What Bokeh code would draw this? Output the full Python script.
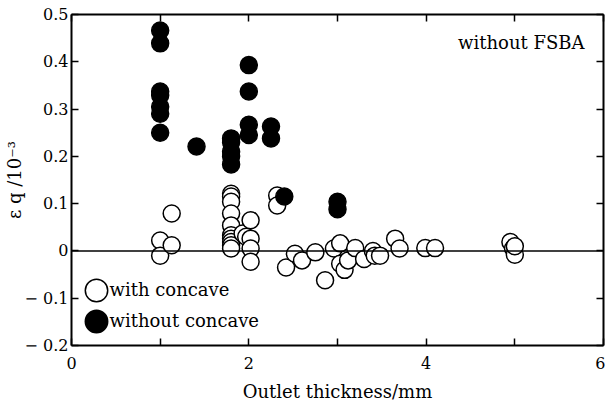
from bokeh.plotting import figure
from bokeh.models import (Span, Label, Legend, LegendItem, LinearAxis, FixedTicker,
                          Range1d)
from bokeh.embed import file_html
from bokeh.resources import INLINE

# with concave (open circles)
with_x = [1.0, 1.0, 1.13, 1.13,
          1.8, 1.8, 1.8, 1.8, 1.8, 1.8, 1.8, 1.8, 1.8, 1.8,
          1.93, 1.97, 2.02, 2.02, 2.02, 2.02,
          2.32, 2.32, 2.42, 2.52, 2.6, 2.75, 2.86, 2.96, 3.03, 3.03, 3.08, 3.12,
          3.2, 3.3, 3.4, 3.42, 3.48, 3.65, 3.7, 3.99, 4.1,
          4.95, 4.98, 5.0, 5.0]
with_y = [0.022, -0.01, 0.079, 0.012,
          0.121, 0.115, 0.104, 0.079, 0.054, 0.033, 0.026, 0.019, 0.012, 0.005,
          0.037, 0.03, 0.065, 0.026, 0.005, -0.023,
          0.117, 0.096, -0.035, -0.006, -0.02, -0.003, -0.062, 0.005, 0.016, -0.027, -0.04, -0.02,
          0.006, -0.017, 0.0, -0.01, -0.01, 0.026, 0.005, 0.006, 0.006,
          0.019, 0.005, -0.008, 0.01]

# without concave (filled circles)
without_x = [1.0, 1.0, 1.0, 1.0, 1.0, 1.0, 1.0,
             1.41,
             1.8, 1.8, 1.8, 1.8, 1.8,
             2.0, 2.0, 2.0, 2.0,
             2.25, 2.25,
             2.4,
             3.0, 3.0]
without_y = [0.466, 0.439, 0.337, 0.329, 0.305, 0.29, 0.25,
             0.221,
             0.238, 0.23, 0.21, 0.2, 0.183,
             0.393, 0.337, 0.267, 0.245,
             0.263, 0.238,
             0.115,
             0.104, 0.088]

x_ticks = [0, 1, 2, 3, 4, 5, 6]
x_labels = {0: "0", 1: "", 2: "2", 3: "", 4: "4", 5: "", 6: "6"}
y_ticks = [-0.2, -0.1, 0, 0.1, 0.2, 0.3, 0.4, 0.5]
y_labels = {-0.2: "\u2212 0.2", -0.1: "\u2212 0.1", 0: "0", 0.1: "0.1",
            0.2: "0.2", 0.3: "0.3", 0.4: "0.4", 0.5: "0.5"}
series_names = ["with concave", "without concave"]
note_text = "without FSBA"

FONT = "DejaVu Serif"

p = figure(frame_width=532, frame_height=331, output_backend="svg", toolbar_location=None,
           x_range=Range1d(0, 6), y_range=Range1d(-0.2, 0.5),
           x_axis_label="Outlet thickness/mm", y_axis_label="\u03b5 q /10\u207b\u00b3",
           min_border_left=67, min_border_top=14, min_border_right=2, min_border_bottom=44)
p.grid.visible = False
p.outline_line_color = None
p.background_fill_color = None
p.border_fill_color = None


def style_axis(ax, show_labels):
    ax.axis_line_width = 2
    ax.axis_line_color = "black"
    ax.major_tick_in = 7
    ax.major_tick_out = 0
    ax.major_tick_line_width = 1.5
    ax.minor_tick_line_color = None
    if show_labels:
        ax.major_label_text_font = FONT
        ax.major_label_text_font_size = "16px"
        ax.major_label_text_color = "black"
        ax.major_label_standoff = 3
        ax.axis_label_text_font = FONT
        ax.axis_label_text_font_size = "18px"
        ax.axis_label_text_font_style = "normal"
        ax.axis_label_text_color = "black"
        ax.axis_label_standoff = 0
    else:
        ax.major_label_text_color = None
        ax.major_label_text_font_size = "1px"
        ax.major_label_standoff = 0
        ax.axis_label = None


p.xaxis.ticker = FixedTicker(ticks=x_ticks)
p.xaxis.major_label_overrides = x_labels
p.yaxis.ticker = FixedTicker(ticks=y_ticks)
p.yaxis.major_label_overrides = y_labels
for ax in p.xaxis + p.yaxis:
    style_axis(ax, True)
p.xaxis.major_label_standoff = 11
p.xaxis.axis_label_standoff = 9
p.yaxis.axis_label_standoff = -3

top = LinearAxis(ticker=FixedTicker(ticks=x_ticks))
right = LinearAxis(ticker=FixedTicker(ticks=y_ticks))
style_axis(top, False)
style_axis(right, False)
p.add_layout(top, "above")
p.add_layout(right, "right")

p.add_layout(Span(location=0, dimension="width", line_color="black", line_width=1.5))

r_with = p.scatter(with_x, with_y, marker="circle", size=17, fill_color="white",
                   line_color="black", line_width=1.5)
r_without = p.scatter(without_x, without_y, marker="circle", size=17, fill_color="black",
                      line_color="black", line_width=1.5)

# legend markers (one legend per entry so they can sit close together)
for rend, loc in [(r_with, (-3, 27)), (r_without, (-3, -4))]:
    lg = Legend(items=[LegendItem(label=" ", renderers=[rend])],
                location=loc, glyph_width=56, glyph_height=56, label_height=56,
                padding=0, margin=0, label_standoff=0, label_width=1,
                border_line_color=None, background_fill_alpha=0,
                label_text_font=FONT, label_text_font_size="17px")
    p.add_layout(lg, "center")

# legend texts
for name, ly in zip(series_names, [56, 25]):
    p.add_layout(Label(x=38, y=ly, x_units="screen", y_units="screen", text=name,
                       text_font=FONT, text_font_size="18px", text_align="left",
                       text_baseline="middle", text_color="black"))

p.add_layout(Label(x=513, y=303, x_units="screen", y_units="screen", text=note_text,
                   text_font=FONT, text_font_size="18px", text_align="right",
                   text_baseline="middle", text_color="black"))

open("out.html", "w").write(file_html(p, INLINE))
